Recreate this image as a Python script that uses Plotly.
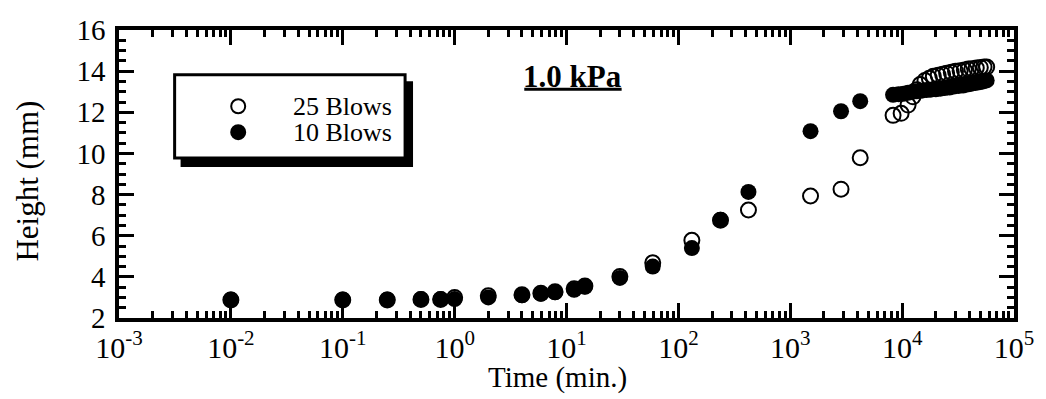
import plotly.graph_objects as go

# ---- data ----
t_25 = [0.01, 0.1, 0.25, 0.5, 0.75, 1, 2, 4, 5.9, 7.9, 11.7, 14.6, 30, 59, 132, 238, 423,
        1518, 2844, 4220,
        8300, 9800, 11300, 12500, 13500, 14500, 16000, 17500, 19000, 21000, 23000, 25000,
        27500, 30000, 33000, 36000, 39000, 42000, 46000, 50000, 54000, 57000]
h_25 = [2.88, 2.88, 2.88, 2.9, 2.9, 3.0, 3.08, 3.13, 3.2, 3.28, 3.42, 3.56, 4.02, 4.68, 5.78, 6.75, 7.25,
        7.93, 8.26, 9.79,
        11.85, 11.95, 12.35, 12.75, 13.1, 13.35, 13.55, 13.65, 13.75, 13.8, 13.85, 13.9,
        13.95, 14.0, 14.02, 14.05, 14.1, 14.12, 14.15, 14.18, 14.2, 14.2]

t_10 = [0.01, 0.1, 0.25, 0.5, 0.75, 1, 2, 4, 5.9, 7.9, 11.7, 14.6, 30, 59, 132, 238, 423,
        1518, 2844, 4220,
        8300, 9300, 10300, 11300, 12500, 13500, 15000, 16500, 18000, 20000, 22000, 24000,
        26500, 29000, 32000, 35000, 38000, 41000, 45000, 49000, 53000, 57000]
h_10 = [2.9, 2.9, 2.9, 2.92, 2.92, 2.92, 3.0, 3.1, 3.18, 3.25, 3.37, 3.52, 3.95, 4.5, 5.4, 6.78, 8.13,
        11.08, 12.05, 12.54,
        12.85, 12.88, 12.9, 12.95, 13.0, 13.02, 13.05, 13.08, 13.1, 13.12, 13.15, 13.18,
        13.2, 13.25, 13.28, 13.3, 13.35, 13.38, 13.42, 13.46, 13.5, 13.55]

x_tickvals = [1e-3, 1e-2, 1e-1, 1e0, 1e1, 1e2, 1e3, 1e4, 1e5]
x_ticktext = ["10<sup>-3</sup>", "10<sup>-2</sup>", "10<sup>-1</sup>", "10<sup>0</sup>",
              "10<sup>1</sup>", "10<sup>2</sup>", "10<sup>3</sup>", "10<sup>4</sup>", "10<sup>5</sup>"]
legend_labels = ["25 Blows", "10 Blows"]
panel_label = "1.0 kPa"
x_title = "Time (min.)"
y_title = "Height (mm)"

FONT = "Times New Roman, Liberation Serif, serif"
W, H = 1046, 399
L, R, T, B = 119, 1020, 29.5, 318.5


def px(x):
    return (x - L) / (R - L)


def py(y):
    return (B - y) / (B - T)


fig = go.Figure()
fig.add_trace(go.Scatter(
    x=t_25, y=h_25, mode="markers", name=legend_labels[0], showlegend=False,
    marker=dict(symbol="circle-open", size=15, color="black", line=dict(width=2, color="black")),
))
fig.add_trace(go.Scatter(
    x=t_10, y=h_10, mode="markers", name=legend_labels[1], showlegend=False,
    marker=dict(symbol="circle", size=16, color="black", line=dict(width=0)),
))

minor_x = [d * 10 ** k for k in range(-3, 5) for d in range(2, 10)]

fig.update_xaxes(
    type="log", range=[-3, 5],
    showline=True, linewidth=3.5, linecolor="black", mirror="allticks",
    ticks="inside", ticklen=15, tickwidth=2.5, tickcolor="black",
    tickvals=x_tickvals, ticktext=x_ticktext,
    tickfont=dict(family=FONT, size=30, color="black"),
    minor=dict(tickvals=minor_x, ticks="inside", ticklen=7, tickwidth=2.5, tickcolor="black", showgrid=False),
    showgrid=False, zeroline=False,
)
fig.update_yaxes(
    range=[2, 16], tick0=0, dtick=2,
    showline=True, linewidth=3.5, linecolor="black", mirror="allticks",
    ticks="inside", ticklen=15, tickwidth=2.5, tickcolor="black",
    tickfont=dict(family=FONT, size=29, color="black"),
    ticklabelstandoff=4,
    minor=dict(dtick=0.5, ticks="inside", ticklen=7, tickwidth=2.5, tickcolor="black", showgrid=False),
    showgrid=False, zeroline=False,
)

shapes = []
# legend box shadow and box
shapes.append(dict(type="rect", xref="paper", yref="paper",
                   x0=px(181), x1=px(415), y0=py(81), y1=py(167),
                   fillcolor="black", line=dict(width=0), layer="above"))
shapes.append(dict(type="rect", xref="paper", yref="paper",
                   x0=px(175), x1=px(407), y0=py(74.5), y1=py(158),
                   fillcolor="white", line=dict(width=3, color="black"), layer="above"))
# legend symbols
shapes.append(dict(type="circle", xref="paper", yref="paper", xsizemode="pixel", ysizemode="pixel",
                   xanchor=px(239), yanchor=py(106), x0=-7, x1=7, y0=-7, y1=7,
                   line=dict(width=2, color="black"), fillcolor="white", layer="above"))
shapes.append(dict(type="circle", xref="paper", yref="paper", xsizemode="pixel", ysizemode="pixel",
                   xanchor=px(239), yanchor=py(132), x0=-8, x1=8, y0=-8, y1=8,
                   line=dict(width=0), fillcolor="black", layer="above"))
# underline of the panel label
shapes.append(dict(type="line", xref="paper", yref="paper",
                   x0=px(527), x1=px(625), y0=py(89), y1=py(89),
                   line=dict(width=3, color="black"), layer="above"))

annotations = [
    dict(text=legend_labels[0], xref="paper", yref="paper", x=px(292), y=py(106),
         xanchor="left", yanchor="middle", showarrow=False,
         font=dict(family=FONT, size=26, color="black")),
    dict(text=legend_labels[1], xref="paper", yref="paper", x=px(292), y=py(132),
         xanchor="left", yanchor="middle", showarrow=False,
         font=dict(family=FONT, size=26, color="black")),
    dict(text="<b>" + panel_label + "</b>", xref="paper", yref="paper", x=px(576), y=py(76),
         xanchor="center", yanchor="middle", showarrow=False,
         font=dict(family=FONT, size=31, color="black")),
    dict(text=x_title, xref="paper", yref="paper", x=px(560), y=py(378),
         xanchor="center", yanchor="middle", showarrow=False,
         font=dict(family=FONT, size=29, color="black")),
    dict(text=y_title, xref="paper", yref="paper", x=px(27), y=py(181),
         xanchor="center", yanchor="middle", showarrow=False, textangle=-90,
         font=dict(family=FONT, size=31, color="black")),
]

fig.update_layout(
    width=W, height=H,
    margin=dict(l=L, r=W - R, t=T, b=H - B, pad=0),
    paper_bgcolor="white", plot_bgcolor="white",
    shapes=shapes, annotations=annotations,
    showlegend=False,
    font=dict(family=FONT, color="black"),
)

fig.write_html("out.html")
